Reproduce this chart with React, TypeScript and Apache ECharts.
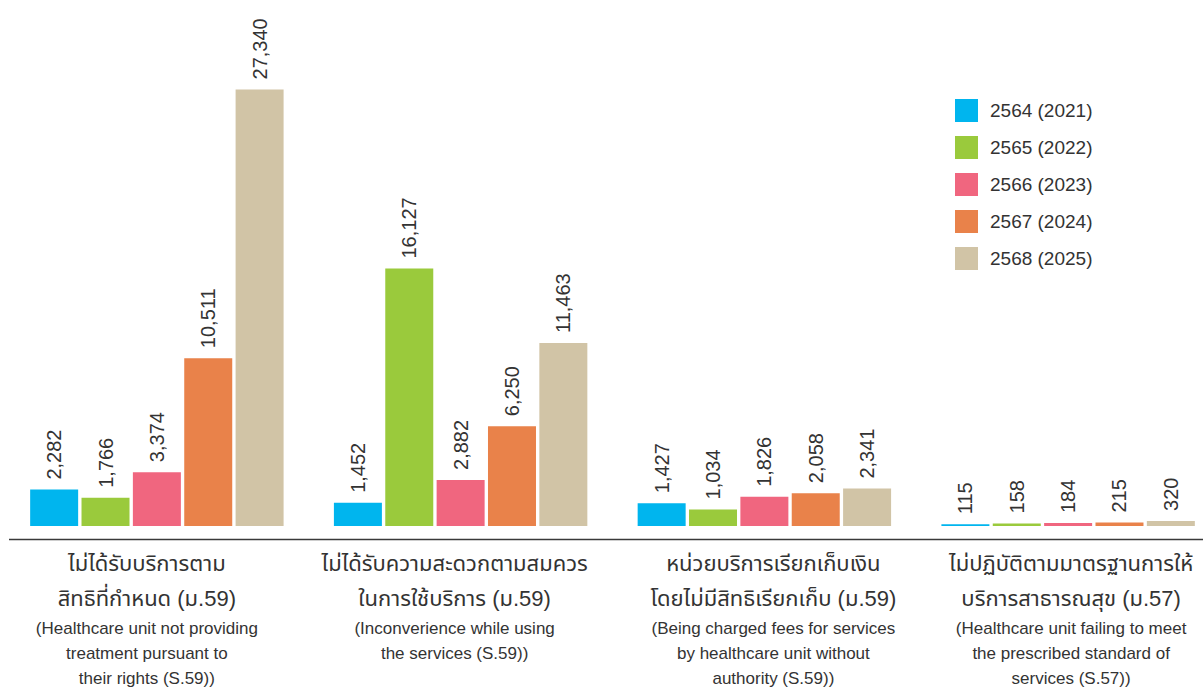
import React, { useEffect, useRef } from "react";
import * as echarts from "echarts";

const seriesNames = ["2564 (2021)", "2565 (2022)", "2566 (2023)", "2567 (2024)", "2568 (2025)"];
const thaiLines = [
  ["ไม่ได้รับบริการตาม", "สิทธิที่กำหนด (ม.59)"],
  ["ไม่ได้รับความสะดวกตามสมควร", "ในการใช้บริการ (ม.59)"],
  ["หน่วยบริการเรียกเก็บเงิน", "โดยไม่มีสิทธิเรียกเก็บ (ม.59)"],
  ["ไม่ปฏิบัติตามมาตรฐานการให้", "บริการสาธารณสุข (ม.57)"],
];
const engLines = [
  ["(Healthcare unit not providing", "treatment pursuant to", "their rights (S.59))"],
  ["(Inconverience while using", "the services (S.59))"],
  ["(Being charged fees for services", "by healthcare unit without", "authority (S.59))"],
  ["(Healthcare unit failing to meet", "the prescribed standard of", "services (S.57))"],
];
const categories = ["c1", "c2", "c3", "c4"];
const v2564 = [2282, 1452, 1427, 115];
const v2565 = [1766, 16127, 1034, 158];
const v2566 = [3374, 2882, 1826, 184];
const v2567 = [10511, 6250, 2058, 215];
const v2568 = [27340, 11463, 2341, 320];
const seriesValues = [v2564, v2565, v2566, v2567, v2568];
const colors = ["#00b5ee", "#9aca3c", "#f0667f", "#e9824a", "#d1c4a6"];

// horizontal nudge of each category label relative to its bar group (px)
const labelShift = [-10, -6, 9, 3];

const FONT = '"Liberation Sans", Arial, "Noto Sans Thai", "Noto Sans", sans-serif';
const TEXT = "#333333";

export default function App() {
  const ref = useRef<HTMLDivElement>(null);
  useEffect(() => {
    const chart = echarts.init(ref.current!, null, { renderer: "svg" });
    const rich: any = {};
    labelShift.forEach((d, i) => {
      const pad = d >= 0 ? [0, 0, 0, 2 * d] : [0, -2 * d, 0, 0];
      rich["th" + i] = { fontSize: 22, lineHeight: 35, color: TEXT, fontFamily: FONT, align: "center", padding: pad };
      rich["en" + i] = { fontSize: 17, lineHeight: 25, color: TEXT, fontFamily: FONT, align: "center", padding: pad };
    });
    const option: any = {
      animation: false,
      backgroundColor: "#ffffff",
      textStyle: { fontFamily: FONT, color: TEXT },
      grid: { left: 5, top: 47, width: 1215, height: 479 },
      legend: {
        orient: "vertical",
        left: 950,
        top: 94,
        itemWidth: 23,
        itemHeight: 23,
        itemGap: 14,
        icon: "rect",
        data: seriesNames,
        textStyle: { fontSize: 19, color: TEXT, fontFamily: FONT, padding: [0, 0, 0, 7] },
      },
      xAxis: {
        type: "category",
        data: categories,
        axisLine: { show: false },
        axisTick: { show: false },
        axisLabel: {
          interval: 0,
          margin: 20,
          color: TEXT,
          formatter: (_v: string, idx: number) => {
            const th = thaiLines[idx].map((l) => `{th${idx}|${l}}`);
            const en = engLines[idx].map((l) => `{en${idx}|${l}}`);
            return [...th, ...en].join("\n");
          },
          rich,
        },
      },
      yAxis: {
        type: "value",
        min: 0,
        max: 30000,
        show: false,
        splitLine: { show: false },
      },
      graphic: [
        {
          type: "line",
          shape: { x1: 9, y1: 539.5, x2: 1203, y2: 539.5 },
          style: { stroke: "#3a3a3a", lineWidth: 1.5 },
        },
      ],
      series: seriesNames.map((name, i) => ({
        name,
        type: "bar",
        data: seriesValues[i],
        barWidth: 48,
        barGap: "7%",
        itemStyle: { color: colors[i] },
        label: {
          show: true,
          position: "top",
          rotate: 90,
          align: "left",
          verticalAlign: "middle",
          distance: 10,
          fontSize: 20,
          color: TEXT,
          fontFamily: FONT,
          formatter: (p: any) => Number(p.value).toLocaleString("en-US"),
        },
      })),
    };
    chart.setOption(option);
    return () => chart.dispose();
  }, []);
  return (
    <div style={{ position: "absolute", left: 0, top: 0, width: 1203, height: 691, overflow: "hidden", background: "#fff" }}>
      <div ref={ref} style={{ position: "absolute", left: 0, top: 0, width: 1230, height: 691 }} />
    </div>
  );
}
